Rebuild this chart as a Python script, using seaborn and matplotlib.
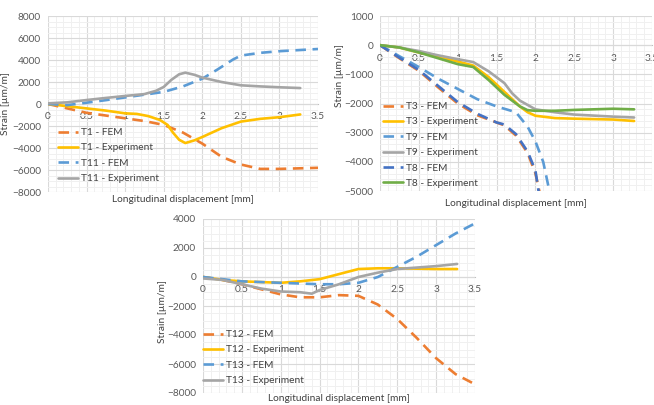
import numpy as np
import pandas as pd
import matplotlib
matplotlib.use("Agg")
import matplotlib.pyplot as plt
from matplotlib.ticker import MultipleLocator
import seaborn as sns

# ---------------- data ----------------
# Panel A (top-left)
t1_fem_x = [0, 0.25, 0.5, 0.75, 1.0, 1.25, 1.5, 1.75, 2.0, 2.25, 2.5, 2.75, 3.0, 3.25, 3.5]
t1_fem_y = [0, -400, -800, -1050, -1300, -1550, -1900, -2600, -3600, -4800, -5500, -5900, -5900, -5850, -5800]
t1_exp_x = [0, 0.25, 0.5, 0.75, 1.0, 1.15, 1.3, 1.45, 1.55, 1.62, 1.7, 1.78, 1.9, 2.0, 2.25, 2.5, 2.75, 3.0, 3.27]
t1_exp_y = [0, -200, -400, -600, -850, -900, -1100, -1450, -1900, -2600, -3250, -3550, -3300, -3000, -2200, -1600, -1350, -1200, -950]
t11_fem_x = [0, 0.25, 0.5, 0.75, 1.0, 1.25, 1.5, 1.75, 2.0, 2.2, 2.4, 2.5, 2.75, 3.0, 3.5]
t11_fem_y = [0, -100, 120, 350, 600, 850, 1100, 1600, 2300, 3150, 4050, 4400, 4650, 4800, 5000]
t11_exp_x = [0, 0.25, 0.5, 0.75, 1.0, 1.25, 1.4, 1.5, 1.6, 1.7, 1.78, 1.9, 2.0, 2.25, 2.5, 2.75, 3.0, 3.27]
t11_exp_y = [60, 150, 360, 550, 730, 900, 1200, 1550, 2200, 2700, 2850, 2650, 2400, 2000, 1700, 1600, 1520, 1450]

# Panel B (top-right)
t3_fem_x = [0, 0.25, 0.5, 0.75, 1.0, 1.25, 1.5, 1.6, 1.75, 1.9, 2.0, 2.05, 2.15]
t3_fem_y = [0, -450, -880, -1450, -2000, -2400, -2650, -2750, -3100, -3700, -4400, -5000, -6000]
t3_exp_x = [0, 0.25, 0.5, 0.75, 1.0, 1.2, 1.4, 1.6, 1.8, 1.9, 2.0, 2.25, 2.5, 3.0, 3.27]
t3_exp_y = [0, -80, -250, -400, -560, -700, -1100, -1600, -2100, -2300, -2420, -2500, -2520, -2550, -2600]
t9_fem_x = [0, 0.25, 0.5, 0.75, 1.0, 1.25, 1.5, 1.75, 1.9, 2.0, 2.1, 2.18, 2.25]
t9_fem_y = [0, -380, -750, -1150, -1500, -1850, -2100, -2300, -2800, -3300, -4000, -5000, -6000]
t9_exp_x = [0, 0.25, 0.5, 0.75, 1.0, 1.2, 1.4, 1.6, 1.7, 1.8, 2.0, 2.25, 2.5, 3.0, 3.27]
t9_exp_y = [0, -80, -200, -350, -480, -580, -900, -1300, -1650, -1900, -2200, -2300, -2380, -2450, -2480]
t8_fem_x = [0, 0.25, 0.5, 0.75, 1.0, 1.25, 1.5, 1.6, 1.75, 1.9, 2.0, 2.04, 2.12]
t8_fem_y = [0, -430, -850, -1400, -1950, -2350, -2650, -2720, -3050, -3650, -4300, -5000, -6000]
t8_exp_x = [0, 0.25, 0.5, 0.75, 1.0, 1.2, 1.4, 1.6, 1.8, 1.9, 2.0, 2.25, 2.5, 3.0, 3.27]
t8_exp_y = [0, -80, -250, -450, -650, -750, -1200, -1700, -2100, -2230, -2250, -2250, -2220, -2180, -2200]

# Panel C (bottom)
t12_fem_x = [0, 0.25, 0.5, 0.75, 1.0, 1.25, 1.5, 1.75, 2.0, 2.25, 2.5, 2.75, 3.0, 3.25, 3.5]
t12_fem_y = [0, -200, -500, -850, -1200, -1400, -1400, -1250, -1300, -1900, -2900, -4200, -5600, -6700, -7400]
t12_exp_x = [0, 0.25, 0.5, 0.75, 1.0, 1.25, 1.5, 1.75, 2.0, 2.25, 2.5, 3.0, 3.27]
t12_exp_y = [0, -200, -300, -350, -400, -300, -150, 200, 550, 600, 600, 550, 550]
t13_fem_x = [0, 0.25, 0.5, 0.75, 1.0, 1.25, 1.5, 1.75, 2.0, 2.25, 2.5, 2.75, 3.0, 3.25, 3.5]
t13_fem_y = [0, -150, -300, -350, -400, -450, -500, -500, -400, 0, 700, 1400, 2200, 3000, 3700]
t13_exp_x = [0, 0.25, 0.5, 0.75, 1.0, 1.25, 1.4, 1.5, 1.75, 2.0, 2.25, 2.5, 2.75, 3.0, 3.27]
t13_exp_y = [-100, -200, -500, -800, -1000, -1050, -1150, -900, -500, 0, 300, 550, 650, 750, 900]

x_ticks = [0, 0.5, 1, 1.5, 2, 2.5, 3, 3.5]
x_tick_labels = ["0", "0.5", "1", "1.5", "2", "2.5", "3", "3.5"]

# ---------------- style ----------------
sns.set_theme(style="white")
plt.rcParams['font.family'] = ['Lato', 'DejaVu Sans']
FS = 7.3

ORANGE = "#ED7D31"
YELLOW = "#FFC000"
LBLUE = "#5B9BD5"
GRAY = "#A5A5A5"
DBLUE = "#4472C4"
GREEN = "#70AD47"
TXT = "#595959"
DASH = (0, (4.0, 2.5))
LW = 1.9

fig = plt.figure(figsize=(6.54, 4.05), dpi=100)
axA = fig.add_axes([48/654, 1-192/405, 270/654, 176/405])
axB = fig.add_axes([380/654, 1-191/405, 272/654, 175/405])
axC = fig.add_axes([203/654, 1-393/405, 272/654, 174/405])


def draw(ax, series):
    for x, y, lab, col, dashed in series:
        df = pd.DataFrame({"x": x, "y": y})
        kw = dict(linestyle=DASH) if dashed else {}
        sns.lineplot(data=df, x="x", y="y", ax=ax, color=col, linewidth=LW,
                     label=lab, sort=False, estimator=None, **kw)
        ax.lines[-1].set_dash_capstyle('butt')


def style(ax, ylim, ymaj, ymin, legend_xy, ylab_y, xlab_y, yl_x):
    ax.set_xlim(0, 3.5)
    ax.set_ylim(*ylim)
    ax.set_xticks(x_ticks)
    ax.set_xticklabels(x_tick_labels)
    ax.xaxis.set_minor_locator(MultipleLocator(0.1))
    ax.yaxis.set_major_locator(MultipleLocator(ymaj))
    ax.yaxis.set_minor_locator(MultipleLocator(ymin))
    ax.grid(which='major', color="#D9D9D9", linewidth=0.8)
    ax.grid(which='minor', color="#F0F0F0", linewidth=0.7)
    ax.set_axisbelow(True)
    for s in ['top', 'right', 'left']:
        ax.spines[s].set_visible(False)
    ax.spines['bottom'].set_position(('data', 0))
    ax.spines['bottom'].set_color("#BFBFBF")
    ax.spines['bottom'].set_linewidth(0.8)
    ax.spines['bottom'].set_zorder(0.5)
    ax.tick_params(axis='both', which='both', length=0, labelsize=FS, labelcolor=TXT)
    ax.tick_params(axis='x', pad=6)
    ax.tick_params(axis='y', pad=5)
    ax.set_xlabel("Longitudinal displacement [mm]", fontsize=FS, color="#404040")
    ax.xaxis.set_label_coords(0.5, xlab_y)
    ax.xaxis.label.set_va('center')
    ax.set_ylabel("Strain [\u00b5m/m]", fontsize=FS, color="#404040")
    ax.yaxis.set_label_coords(yl_x, ylab_y)
    ax.yaxis.label.set_va('center')
    leg = ax.legend(loc='upper left', bbox_to_anchor=legend_xy, bbox_transform=fig.transFigure,
                    frameon=False, fontsize=FS, handlelength=2.0, handletextpad=0.25,
                    labelspacing=0.62, borderpad=0, borderaxespad=0)
    for t in leg.get_texts():
        t.set_color("#404040")


draw(axA, [
    (t1_fem_x, t1_fem_y, "T1 - FEM", ORANGE, True),
    (t1_exp_x, t1_exp_y, "T1 - Experiment", YELLOW, False),
    (t11_fem_x, t11_fem_y, "T11 - FEM", LBLUE, True),
    (t11_exp_x, t11_exp_y, "T11 - Experiment", GRAY, False),
])
style(axA, (-8000, 8000), 2000, 500, (58/654, 1-128/405), 0.5, -0.045, -0.158)

draw(axB, [
    (t3_fem_x, t3_fem_y, "T3 - FEM", ORANGE, True),
    (t3_exp_x, t3_exp_y, "T3 - Experiment", YELLOW, False),
    (t9_fem_x, t9_fem_y, "T9 - FEM", LBLUE, True),
    (t9_exp_x, t9_exp_y, "T9 - Experiment", GRAY, False),
    (t8_fem_x, t8_fem_y, "T8 - FEM", DBLUE, True),
    (t8_exp_x, t8_exp_y, "T8 - Experiment", GREEN, False),
])
style(axB, (-5000, 1000), 1000, 200, (383/654, 1-102/405), 0.657, -0.069, -0.15)

draw(axC, [
    (t12_fem_x, t12_fem_y, "T12 - FEM", ORANGE, True),
    (t12_exp_x, t12_exp_y, "T12 - Experiment", YELLOW, False),
    (t13_fem_x, t13_fem_y, "T13 - FEM", LBLUE, True),
    (t13_exp_x, t13_exp_y, "T13 - Experiment", GRAY, False),
])
style(axC, (-8000, 4000), 2000, 500, (203/654, 1-330/405), 0.47, -0.03, -0.15)

fig.savefig("out.png", dpi=100)
